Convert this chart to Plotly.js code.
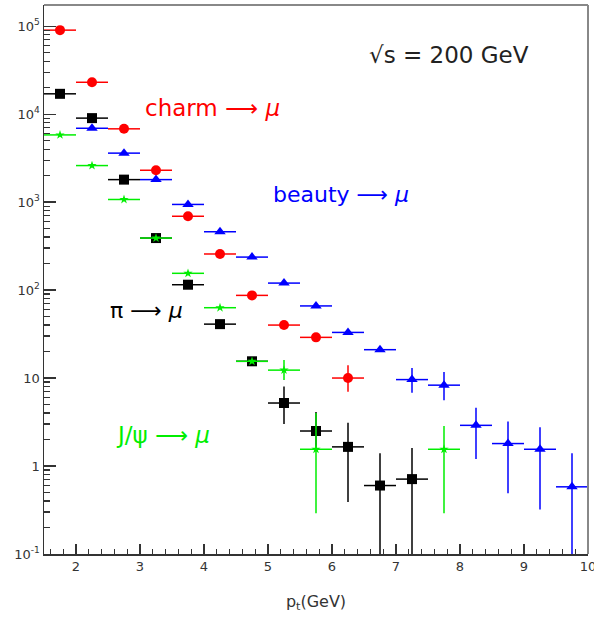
<!DOCTYPE html>
<html><head><meta charset="utf-8">
<script src="https://cdn.plot.ly/plotly-3.0.1.min.js"></script>
<style>html,body{margin:0;padding:0;background:#fff}#chart{width:594px;height:622px}</style>
</head><body><div id="chart"></div>
<script>
// pT bin centres (GeV), bin half-width 0.25
const ptCharm  = [1.75, 2.25, 2.75, 3.25, 3.75, 4.25, 4.75, 5.25, 5.75, 6.25];
const charm    = [90000, 23000, 6800, 2300, 690, 257, 87, 40, 29, 10];
const charmHi  = [0, 0, 0, 0, 0, 0, 0, 0, 0, 14];
const charmLo  = [0, 0, 0, 0, 0, 0, 0, 0, 0, 7];

const ptBeauty = [2.25, 2.75, 3.25, 3.75, 4.25, 4.75, 5.25, 5.75, 6.25, 6.75, 7.25, 7.75, 8.25, 8.75, 9.25, 9.75];
const beauty   = [6900, 3600, 1800, 940, 460, 237, 120, 66, 33, 21, 9.6, 8.3, 2.9, 1.8, 1.55, 0.58];
const beautyHi = [0, 0, 0, 0, 0, 0, 0, 0, 0, 0, 13, 11.7, 4.6, 3.2, 2.75, 1.4];
const beautyLo = [0, 0, 0, 0, 0, 0, 0, 0, 0, 0, 6.8, 5.6, 1.2, 0.49, 0.32, 0.05];

const ptPion   = [1.75, 2.25, 2.75, 3.25, 3.75, 4.25, 4.75, 5.25, 5.75, 6.25, 6.75, 7.25];
const pion     = [17000, 9000, 1800, 390, 115, 41, 15.5, 5.2, 2.5, 1.65, 0.6, 0.71];
const pionHi   = [0, 0, 0, 0, 0, 0, 0, 8, 4.1, 3.1, 1.4, 1.6];
const pionLo   = [0, 0, 0, 0, 0, 0, 0, 3, 1.5, 0.39, 0.05, 0.05];

const ptJpsi   = [1.75, 2.25, 2.75, 3.25, 3.75, 4.25, 4.75, 5.25, 5.75, 7.75];
const jpsi     = [5800, 2600, 1070, 390, 155, 63, 15.5, 12.3, 1.55, 1.55];
const jpsiHi   = [0, 0, 0, 0, 0, 0, 0, 16, 4, 2.85];
const jpsiLo   = [0, 0, 0, 0, 0, 0, 0, 9.5, 0.29, 0.29];

const yTickVals  = [0.1, 1, 10, 100, 1000, 10000, 100000];
const yTickText  = ['10<sup>-1</sup>', '1', '10', '10<sup>2</sup>', '10<sup>3</sup>', '10<sup>4</sup>', '10<sup>5</sup>'];
const xTickVals  = [2, 3, 4, 5, 6, 7, 8, 9, 10];

function series(x, y, hi, lo, color, symbol, size, lw) {
  return {
    x: x, y: y, type: 'scatter', mode: 'markers',
    marker: {color: color, symbol: symbol, size: size, line: {width: 0}},
    error_x: {type: 'constant', value: 0.25, color: color, thickness: lw, width: 0},
    error_y: {type: 'data', symmetric: false,
              array: hi.map((h, i) => h > 0 ? h - y[i] : 0),
              arrayminus: lo.map((l, i) => l > 0 ? y[i] - l : 0),
              color: color, thickness: lw, width: 0},
    cliponaxis: true, hoverinfo: 'skip'
  };
}

const data = [
  series(ptBeauty, beauty, beautyHi, beautyLo, '#0000ff', 'triangle-up', 10, 1.5),
  series(ptCharm, charm, charmHi, charmLo, '#ff0000', 'circle', 10, 1.5),
  series(ptPion, pion, pionHi, pionLo, '#000000', 'square', 10, 1.5),
  series(ptJpsi, jpsi, jpsiHi, jpsiLo, '#00ee00', 'star', 7, 1.5)
];

const F = 'DejaVu Sans, Verdana, sans-serif';
function label(x, y, text, color, size) {
  return {xref: 'paper', yref: 'paper', x: x, y: y, xanchor: 'center', yanchor: 'middle',
          text: text, showarrow: false, font: {size: size, family: F, color: color}};
}
const layout = {
  width: 594, height: 622,
  margin: {l: 44, r: 6, t: 5, b: 68},
  paper_bgcolor: '#fff', plot_bgcolor: '#fff',
  showlegend: false,
  font: {family: F, color: '#222'},
  xaxis: {
    range: [1.5, 10], tickvals: xTickVals, ticks: 'inside', ticklen: 10, tickwidth: 1.2, tickcolor: '#333',
    ticklabeloverflow: 'allow',
    minor: {dtick: 0.2, tick0: 2, ticks: 'inside', ticklen: 5, tickcolor: '#333', showgrid: false},
    showgrid: false, zeroline: false, showline: true, linecolor: '#333', linewidth: 1.5, mirror: false,
    tickfont: {size: 13, family: F, color: '#333'},
    title: {text: 'p<sub>t</sub>(GeV)', font: {size: 16, family: F, color: '#333'}, standoff: 22}
  },
  yaxis: {
    type: 'log', range: [-1, 5.24], tickvals: yTickVals, ticktext: yTickText,
    ticks: 'inside', ticklen: 12, tickwidth: 1.2, tickcolor: '#333',
    minor: {dtick: 'D1', ticks: 'inside', ticklen: 6, tickcolor: '#333', showgrid: false},
    showgrid: false, zeroline: false, showline: true, linecolor: '#333', linewidth: 1.5,
    tickfont: {size: 13, family: F, color: '#333'}
  },
  shapes: [
    {type: 'line', xref: 'paper', yref: 'paper', x0: 0, x1: 1, y0: 1, y1: 1, line: {color: '#888', width: 2}},
    {type: 'line', xref: 'paper', yref: 'paper', x0: 1, x1: 1, y0: 0, y1: 1, line: {color: '#888', width: 2}}
  ],
  annotations: [
    label(0.745, 0.909, '√s = 200 GeV', '#222', 23),
    label(0.310, 0.813, 'charm ⟶ <i>μ</i>', '#ff0000', 23),
    label(0.546, 0.654, 'beauty ⟶ <i>μ</i>', '#0000ff', 22),
    label(0.188, 0.444, 'π ⟶ <i>μ</i>', '#000000', 22),
    label(0.219, 0.216, 'J/ψ ⟶ <i>μ</i>', '#00ee00', 23)
  ]
};

Plotly.newPlot('chart', data, layout, {displayModeBar: false, staticPlot: true});
</script>
</body></html>
